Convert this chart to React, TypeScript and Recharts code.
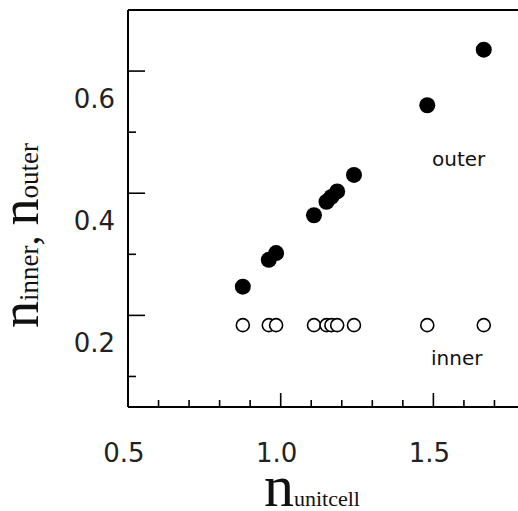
import { ScatterChart, Scatter, XAxis, YAxis } from "recharts";

const nUnitcell = [0.876, 0.961, 0.985, 1.109, 1.15, 1.166, 1.185, 1.24, 1.48, 1.665];
const nOuter = [0.247, 0.291, 0.302, 0.364, 0.386, 0.394, 0.403, 0.43, 0.544, 0.635];
const nInner = [0.184, 0.184, 0.184, 0.184, 0.184, 0.184, 0.184, 0.184, 0.184, 0.184];

const xTicks = [0.5, 0.6, 0.7, 0.8, 0.9, 1.0, 1.1, 1.2, 1.3, 1.4, 1.5, 1.6, 1.7, 1.8];
const xMajor = [0.5, 1.0, 1.5];
const yTicks = [0.1, 0.2, 0.3, 0.4, 0.5, 0.6];
const yMajor = [0.2, 0.4, 0.6];

const outerData = nUnitcell.map((x, i) => ({ x, y: nOuter[i] }));
const innerData = nUnitcell.map((x, i) => ({ x, y: nInner[i] }));

const labelFont = "DejaVu Sans, sans-serif";
const isMajor = (list: number[], v: number) => list.some((m) => Math.abs(m - v) < 1e-6);

const BottomTick = (props: any) => {
  const { x, y, payload } = props;
  const major = isMajor(xMajor, payload.value);
  return (
    <g>
      <line x1={x} x2={x} y1={y} y2={y - (major ? 14 : 7)} stroke="#000" strokeWidth={1.6} />
      {major && (
        <text x={x - 4} y={y + 55} textAnchor="middle" fontSize={26} fontFamily={labelFont} fill="#222">
          {payload.value.toFixed(1)}
        </text>
      )}
    </g>
  );
};

const TopTick = (props: any) => {
  const { x, y, payload } = props;
  const major = isMajor(xMajor, payload.value);
  return <line x1={x} x2={x} y1={y} y2={y + (major ? 16 : 7)} stroke="#000" strokeWidth={1.6} />;
};

const LeftTick = (props: any) => {
  const { x, y, payload } = props;
  const major = isMajor(yMajor, payload.value);
  return (
    <g>
      <line x1={x} x2={x + (major ? 17 : 8)} y1={y} y2={y} stroke="#000" strokeWidth={1.6} />
      {major && (
        <text x={x - 13} y={y + 37} textAnchor="end" fontSize={26} fontFamily={labelFont} fill="#222">
          {payload.value.toFixed(1)}
        </text>
      )}
    </g>
  );
};

const RightTick = (props: any) => {
  const { x, y, payload } = props;
  const major = isMajor(yMajor, payload.value);
  return <line x1={x} x2={x - (major ? 16 : 8)} y1={y} y2={y} stroke="#000" strokeWidth={1.6} />;
};

const FilledDot = (props: any) => <circle cx={props.cx} cy={props.cy} r={8} fill="#000" />;
const OpenDot = (props: any) => (
  <circle cx={props.cx} cy={props.cy} r={6.5} fill="#fff" stroke="#000" strokeWidth={1.6} />
);

export default function App() {
  const axisLine = { stroke: "#000", strokeWidth: 2 };
  return (
    <div style={{ position: "absolute", left: 0, top: 0, width: 518, height: 511, overflow: "hidden", background: "#fff" }}>
      <ScatterChart width={545} height={511} margin={{ top: 9, right: 19, bottom: 103, left: 127 }}>
        <XAxis
          xAxisId="bottom"
          dataKey="x"
          type="number"
          domain={[0.5, 1.8]}
          ticks={xTicks}
          interval={0}
          height={1}
          tickSize={0}
          tickMargin={0}
          tickLine={false}
          axisLine={axisLine}
          tick={<BottomTick />}
        />
        <XAxis
          xAxisId="top"
          orientation="top"
          type="number"
          domain={[0.5, 1.8]}
          ticks={xTicks}
          interval={0}
          height={1}
          tickSize={0}
          tickMargin={0}
          tickLine={false}
          axisLine={axisLine}
          tick={<TopTick />}
        />
        <YAxis
          yAxisId="left"
          dataKey="y"
          type="number"
          domain={[0.05, 0.7]}
          ticks={yTicks}
          interval={0}
          width={1}
          tickSize={0}
          tickMargin={0}
          tickLine={false}
          axisLine={axisLine}
          tick={<LeftTick />}
        />
        <YAxis
          yAxisId="right"
          orientation="right"
          type="number"
          domain={[0.05, 0.7]}
          ticks={yTicks}
          interval={0}
          width={1}
          tickSize={0}
          tickMargin={0}
          tickLine={false}
          axisLine={axisLine}
          tick={<RightTick />}
        />
        <Scatter xAxisId="bottom" yAxisId="left" data={innerData} shape={<OpenDot />} isAnimationActive={false} />
        <Scatter xAxisId="bottom" yAxisId="left" data={outerData} shape={<FilledDot />} isAnimationActive={false} />
      </ScatterChart>
      <svg width={518} height={511} style={{ position: "absolute", left: 0, top: 0, pointerEvents: "none" }}>
        <text x={432} y={166} fontSize={20} fontFamily={labelFont} fill="#111">outer</text>
        <text x={431} y={365} fontSize={20} fontFamily={labelFont} fill="#111">inner</text>
        <text x={264} y={506} fontFamily="Liberation Serif, serif" fill="#111">
          <tspan fontSize={60}>n</tspan>
          <tspan fontSize={22}>unitcell</tspan>
        </text>
        <text transform="translate(38,328) rotate(-90)" fontFamily="Liberation Serif, serif" fill="#111">
          <tspan fontSize={54}>n</tspan>
          <tspan fontSize={27}>inner</tspan>
          <tspan fontSize={40}>, </tspan>
          <tspan fontSize={54}>n</tspan>
          <tspan fontSize={27}>outer</tspan>
        </text>
      </svg>
    </div>
  );
}
